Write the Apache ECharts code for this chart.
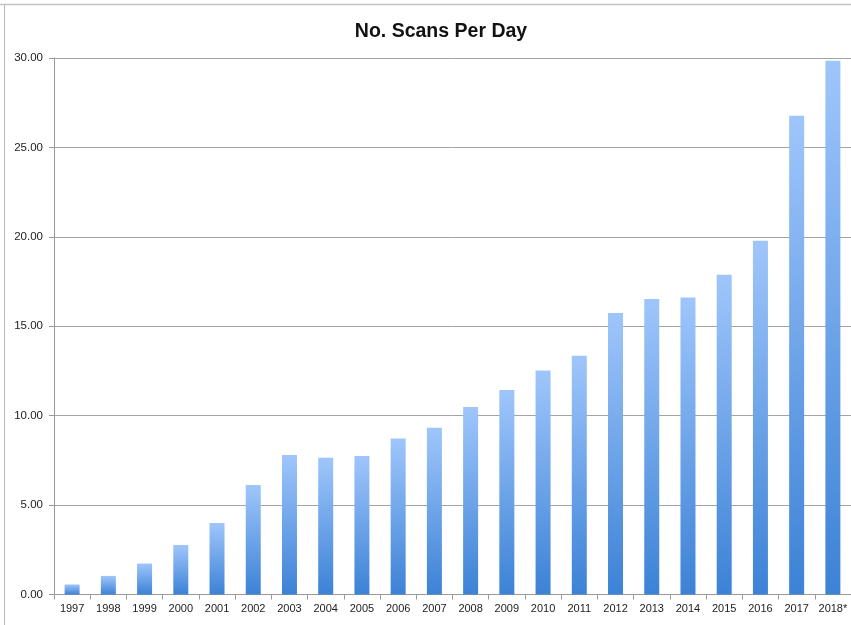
<!DOCTYPE html>
<html>
<head>
<meta charset="utf-8">
<script src="https://cdn.jsdelivr.net/npm/echarts@6/dist/echarts.min.js"></script>
<style>
  html, body { margin: 0; padding: 0; background: #fff; }
  #chart { width: 851px; height: 625px; }
</style>
</head>
<body>
<div id="chart"></div>
<script>
// Categories (years) and average scans per day
const years = ['1997','1998','1999','2000','2001','2002','2003','2004','2005','2006','2007',
               '2008','2009','2010','2011','2012','2013','2014','2015','2016','2017','2018*'];
const scansPerDay = [0.56, 1.04, 1.73, 2.77, 4.00, 6.13, 7.80, 7.65, 7.74, 8.72, 9.32,
                     10.48, 11.43, 12.53, 13.35, 15.74, 16.52, 16.61, 17.88, 19.78, 26.77, 29.85];
const yTicks = { min: 0, max: 30, step: 5 };

const chart = echarts.init(document.getElementById('chart'), null, { renderer: 'canvas' });

const labelFont = 'Liberation Sans, Arial, sans-serif';

chart.setOption({
  animation: false,
  backgroundColor: '#ffffff',
  title: {
    text: 'No. Scans Per Day',
    left: 436,
    top: 17,
    textAlign: 'center',
    textStyle: { fontFamily: labelFont, fontWeight: 'bold', fontSize: 19.5, color: '#111' }
  },
  graphic: [
    { type: 'line', shape: { x1: 0, y1: 4.5, x2: 851, y2: 4.5 }, style: { stroke: '#c4c4c4', lineWidth: 1.5 } },
    { type: 'line', shape: { x1: 4.5, y1: 4, x2: 4.5, y2: 625 }, style: { stroke: '#b8b8b8', lineWidth: 1 } }
  ],
  grid: { left: 54, top: 58, width: 798.5, height: 536.5, containLabel: false },
  xAxis: {
    type: 'category',
    data: years,
    axisLine: { lineStyle: { color: '#9a9a9a', width: 1 } },
    axisTick: { show: true, alignWithLabel: false, length: 5, lineStyle: { color: '#9a9a9a' } },
    axisLabel: { margin: 9, fontFamily: labelFont, fontSize: 11, color: '#222', interval: 0 }
  },
  yAxis: {
    type: 'value',
    min: yTicks.min,
    max: yTicks.max,
    interval: yTicks.step,
    axisLine: { show: true, lineStyle: { color: '#9a9a9a', width: 1 } },
    axisTick: { show: true, length: 5, inside: false, lineStyle: { color: '#9a9a9a' } },
    axisLabel: {
      margin: 11, fontFamily: labelFont, fontSize: 11.5, color: '#222',
      formatter: v => v.toFixed(2)
    },
    splitLine: { show: true, lineStyle: { color: '#a4a4a4', width: 1 } }
  },
  series: [{
    type: 'bar',
    data: scansPerDay,
    barWidth: 15,
    itemStyle: {
      color: new echarts.graphic.LinearGradient(0, 0, 0, 1, [
        { offset: 0, color: '#9fc6fb' },
        { offset: 1, color: '#3c82d6' }
      ])
    }
  }]
});
</script>
</body>
</html>
